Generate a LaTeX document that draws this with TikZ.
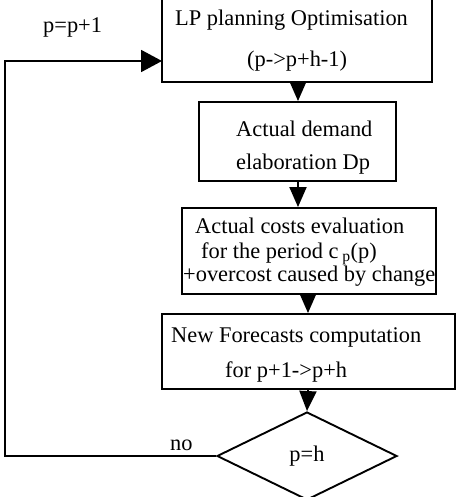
\documentclass[tikz,border=0pt]{standalone}
\usepackage{fontspec}
\setmainfont{Liberation Serif}
\usetikzlibrary{arrows.meta,shapes.geometric}

\tikzset{
  stepbox/.style={draw, line width=1.9pt, inner sep=0pt},
  flow/.style={line width=1.9pt, -{Triangle[length=20pt,width=17pt]}},
  lbl/.style={anchor=base west, inner sep=0pt, font=\fontsize{22.4}{26}\selectfont},
}

\begin{document}
\begin{tikzpicture}[x=1pt,y=1pt,yscale=-1]
\useasboundingbox (0,0) rectangle (457,497);
\clip (0,0) rectangle (457,497);

% Boxes
\node [stepbox, minimum width=270, minimum height=102] (lp) at (297,31) {};
\node [stepbox, minimum width=197, minimum height=79] (demand) at (297.5,141.5) {};
\node [stepbox, minimum width=254, minimum height=86] (costs) at (309,251) {};
\node [stepbox, minimum width=293, minimum height=75] (forecast) at (308.5,351.5) {};
% Decision
\node [stepbox, diamond, aspect=2.045, minimum width=180, minimum height=88, font=\fontsize{22.4}{26}\selectfont] (test) at (307,456) {p=h};

% Loop back
\coordinate (loop) at (5,456);
\coordinate (entry) at (162,61);

% Arrows
\draw [flow] (lp.south -| 298,0) -- (demand.north -| 298,0);
\draw [flow] (demand.south -| 298,0) -- (costs.north -| 298,0);
\draw [flow] (costs.south -| 308,0) -- (forecast.north -| 308,0);
\draw [flow] (forecast.south -| 308,0) -- (test.north);
\draw [flow, -{Triangle[length=21pt,width=22pt]}] (test.west) -- (loop) |- (entry);

% Text Node
\node [lbl] (tinc) at (43,33) {p=p+1};
% Text Node
\node [lbl] (tlp1) at (175,26) {LP planning Optimisation};
\node [lbl] (tlp2) at (247,67) {(p->p+h-1)};
% Text Node
\node [lbl] (tdem1) at (236,137) {Actual demand};
\node [lbl] (tdem2) at (236,169) {elaboration Dp};
% Text Node
\node [lbl] (tcost1) at (195,233) {Actual costs evaluation};
\node [lbl] (tcost2) at (201,258) {for the period c\,\textsubscript{p}(p)};
\node [lbl] (tcost3) at (183,281) {+overcost caused by change};
% Text Node
\node [lbl] (tfc1) at (171,342) {New Forecasts computation};
\node [lbl] (tfc2) at (225,377) {for p+1->p+h};
% Text Node
\node [lbl] (tno) at (170,450) {no};

\end{tikzpicture}
\end{document}
